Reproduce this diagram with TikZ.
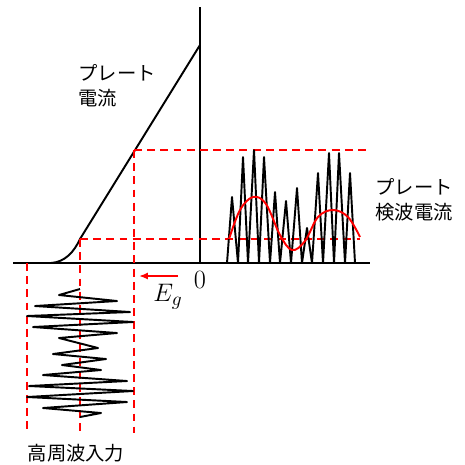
\documentclass[tikz,border=0pt]{standalone}
\usepackage{fontspec}
\newfontfamily\jpfont{Noto Sans CJK JP}
\usetikzlibrary{arrows.meta,positioning}

\begin{document}
\begin{tikzpicture}[x=0.02cm,y=-0.02cm,
    curve/.style={line width=1.1pt},
    guide/.style={red,line width=0.7pt,dash pattern=on 4.5pt off 3pt},
    jplabel/.style={font=\jpfont\fontsize{11}{14}\selectfont,align=left,inner sep=0pt}]
  \useasboundingbox (0,0) rectangle (465,464);
  % axes
  \draw[curve] (13,263) -- (370,263);
  \draw[curve] (200,7) -- (200,262);
  % characteristic curve
  \coordinate (knee) at (80,239);
  \coordinate (work) at (134,150);
  \coordinate (top) at (200,45);
  \draw[curve] (51,263) .. controls (65,262) and (74,252) .. (knee) -- (top);
  % guide lines
  \draw[guide] (27,263) -- (27,433);
  \draw[guide] (knee) -- (80,433);
  \draw[guide] (work) -- (134,433);
  \draw[guide] (work) -- (367,150);
  \draw[guide] (knee) -- (360,239);
  % grid bias
  \coordinate (biasA) at (178,276);
  \coordinate (biasB) at (139,276);
  \draw[red,line width=1pt,-{Latex[length=5pt,width=4pt]}] (biasA) -- (biasB);
  \node[font=\fontsize{15}{17}\selectfont] (zero) at (200,280) {0};
  \node[font=\fontsize{15}{17}\selectfont] (eg) at (168,297) {$E_g$};
  % input signal
  \draw[curve,line join=round] (80,289) -- (59,295) -- (117,301) -- (35,306) -- (130,312)
    -- (27,316) -- (133,322) -- (33,327) -- (117,333) -- (59,338)
    -- (98,348) -- (53,354) -- (106,359) -- (62,365) -- (101,370)
    -- (43,375) -- (127,381) -- (29,386) -- (133,391) -- (27,397)
    -- (127,402) -- (43,408) -- (101,413) -- (80,417);
  % plate current pulses
  \draw[curve,line join=round] (227,263) -- (232,197) -- (238,263) -- (243,157) -- (248,263)
    -- (254,150) -- (259,263) -- (264,157) -- (270,263) -- (275,192)
    -- (280,263) -- (286,201) -- (291,263) -- (297,188) -- (302,263)
    -- (307,228) -- (312,263) -- (318,173) -- (323,263) -- (329,153)
    -- (334,263) -- (339,153) -- (345,263) -- (350,173) -- (355,263);
  % detected current
  \draw[red,line width=1.1pt] plot[smooth,tension=0.6] coordinates {(229,239) (240,210) (253,197)
    (266,204) (280,235) (292,250) (305,241) (318,217) (333,210) (348,217) (360,237)};
  % labels
  \node[jplabel,anchor=west] (plate) at (78,86) {プレート\\電流};
  \node[jplabel,anchor=west] (detect) at (375,200) {プレート\\検波電流};
  \node[jplabel] (input) at (76,453) {高周波入力};
\end{tikzpicture}
\end{document}
